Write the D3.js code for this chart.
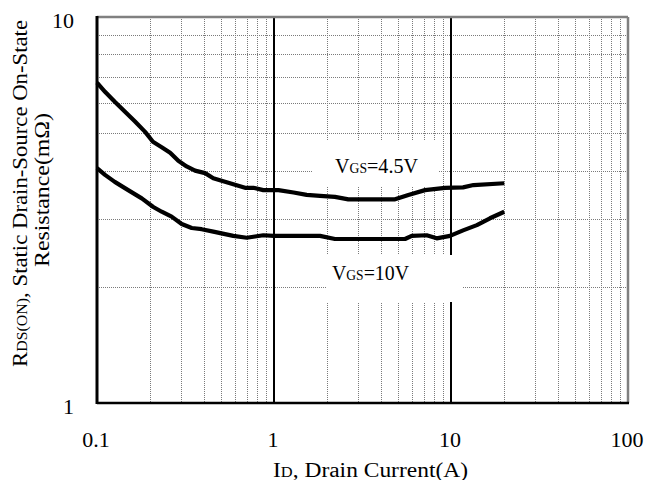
<!DOCTYPE html>
<html>
<head>
<meta charset="utf-8">
<script src="https://cdn.jsdelivr.net/npm/d3@7"></script>
<style>
  html, body { margin: 0; padding: 0; background: #fff; }
  svg { display: block; }
  text { font-family: "Liberation Serif", "Times New Roman", serif; fill: #000; }
</style>
</head>
<body>
<svg id="chart" width="646" height="480"></svg>
<script>
// Drain current (A) and on-resistance (mΩ) for each gate drive
const currentVgs45 = [0.1, 0.111, 0.126, 0.144, 0.164, 0.187, 0.207, 0.232, 0.259, 0.288, 0.321, 0.358, 0.408, 0.454, 0.564, 0.686, 0.764, 0.87, 1.06, 1.29, 1.53, 1.82, 2.21, 2.63, 4.83, 5.74, 7.13, 9.25, 11.7, 13.4, 20];
const rdsVgs45     = [6.76, 6.40, 6.03, 5.68, 5.36, 5.04, 4.75, 4.60, 4.45, 4.24, 4.10, 4.00, 3.94, 3.82, 3.71, 3.61, 3.61, 3.56, 3.56, 3.51, 3.46, 3.44, 3.42, 3.37, 3.37, 3.46, 3.56, 3.61, 3.62, 3.67, 3.71];

const currentVgs10 = [0.1, 0.111, 0.126, 0.150, 0.179, 0.208, 0.232, 0.264, 0.301, 0.343, 0.390, 0.454, 0.589, 0.701, 0.781, 0.87, 0.996, 1.82, 2.21, 5.50, 6.0, 7.29, 8.30, 9.87, 11.7, 14.0, 16.6, 20];
const rdsVgs10     = [4.06, 3.90, 3.74, 3.56, 3.39, 3.22, 3.13, 3.04, 2.91, 2.84, 2.82, 2.78, 2.71, 2.68, 2.70, 2.72, 2.71, 2.71, 2.66, 2.66, 2.71, 2.72, 2.67, 2.71, 2.80, 2.89, 3.01, 3.13];

const xTickLabels = [0.1, 1, 10, 100];
const yTickLabels = [1, 10];

const svg = d3.select("#chart");

const plotLeft = 97, plotRight = 628, plotTop = 17, plotBottom = 403;
const x = d3.scaleLog().domain([0.1, 100]).range([plotLeft, plotRight]);
const y = d3.scaleLog().domain([1, 10]).range([plotBottom, plotTop]);

// minor grid positions: 2..9 in every decade
const minorX = [];
[0.1, 1, 10].forEach(d => { for (let k = 2; k <= 9; k++) minorX.push(+(d * k).toPrecision(3)); });
const minorY = d3.range(2, 10);

const grid = svg.append("g")
  .attr("stroke", "#7a7a7a")
  .attr("stroke-width", 1)
  .attr("stroke-dasharray", "1,1")
  .attr("shape-rendering", "crispEdges");

grid.selectAll("line.v").data(minorX).join("line")
  .attr("class", "v")
  .attr("x1", d => Math.round(x(d)) + 0.5).attr("x2", d => Math.round(x(d)) + 0.5)
  .attr("y1", plotTop).attr("y2", plotBottom);

grid.selectAll("line.h").data(minorY).join("line")
  .attr("class", "h")
  .attr("x1", plotLeft).attr("x2", plotRight)
  .attr("y1", d => Math.round(y(d)) + 0.5).attr("y2", d => Math.round(y(d)) + 0.5);

// solid decade lines inside the plot
svg.append("g").selectAll("line").data([1, 10]).join("line")
  .attr("x1", d => x(d)).attr("x2", d => x(d))
  .attr("y1", plotTop).attr("y2", plotBottom)
  .attr("stroke", "#000").attr("stroke-width", 2);

// frame: grey top/right, black left/bottom
svg.append("line").attr("x1", plotLeft).attr("x2", plotRight).attr("y1", plotTop).attr("y2", plotTop)
  .attr("stroke", "#808080").attr("stroke-width", 2.5);
svg.append("line").attr("x1", plotRight).attr("x2", plotRight).attr("y1", plotTop).attr("y2", plotBottom)
  .attr("stroke", "#808080").attr("stroke-width", 2.5);
svg.append("line").attr("x1", plotLeft).attr("x2", plotRight + 1).attr("y1", plotBottom).attr("y2", plotBottom)
  .attr("stroke", "#000").attr("stroke-width", 2.5);
svg.append("line").attr("x1", plotLeft).attr("x2", plotLeft).attr("y1", plotTop - 1).attr("y2", plotBottom + 1)
  .attr("stroke", "#000").attr("stroke-width", 3);

// white panels behind the curve labels
svg.append("rect").attr("x", 313).attr("y", 140).attr("width", 125).attr("height", 47).attr("fill", "#fff");
svg.append("rect").attr("x", 327).attr("y", 255).attr("width", 135).attr("height", 47).attr("fill", "#fff");

// curves
const line = d3.line().x(d => x(d[0])).y(d => y(d[1]));
const series = [
  d3.zip(currentVgs45, rdsVgs45),
  d3.zip(currentVgs10, rdsVgs10)
];
svg.append("g").selectAll("path").data(series).join("path")
  .attr("d", line)
  .attr("fill", "none")
  .attr("stroke", "#000")
  .attr("stroke-width", 4.2)
  .attr("stroke-linejoin", "round");

// tick labels
svg.append("g").selectAll("text").data(xTickLabels).join("text")
  .attr("x", d => x(d) - 1)
  .attr("y", 447)
  .attr("text-anchor", "middle")
  .attr("font-size", 22)
  .text(d => d3.format("~g")(d));

svg.append("g").selectAll("text").data(yTickLabels).join("text")
  .attr("x", 74)
  .attr("y", d => y(d) + 10.5)
  .attr("text-anchor", "end")
  .attr("font-size", 22)
  .text(d => d);

// curve labels
function vgsLabel(xPos, yPos, value, len) {
  const t = svg.append("text").attr("x", xPos).attr("y", yPos).attr("font-size", 22)
    .attr("textLength", len).attr("lengthAdjust", "spacingAndGlyphs");
  t.append("tspan").text("V");
  t.append("tspan").attr("font-size", 15).text("GS");
  t.append("tspan").text("=" + value + "V");
}
vgsLabel(335, 173, "4.5", 83);
vgsLabel(332, 280, "10", 77);

// x axis title
const xt = svg.append("text").attr("x", 273).attr("y", 477).attr("font-size", 20)
  .attr("textLength", 195).attr("lengthAdjust", "spacingAndGlyphs");
xt.append("tspan").text("I");
xt.append("tspan").attr("font-size", 14).text("D");
xt.append("tspan").text(", Drain Current(A)");

// y axis title (two lines)
const yt1 = svg.append("text")
  .attr("transform", "translate(27,367) rotate(-90)")
  .attr("font-size", 20)
  .attr("textLength", 347).attr("lengthAdjust", "spacingAndGlyphs");
yt1.append("tspan").text("R");
yt1.append("tspan").attr("font-size", 14).text("DS(ON)");
yt1.append("tspan").text(", Static Drain-Source On-State");

svg.append("text")
  .attr("transform", "translate(49,267) rotate(-90)")
  .attr("font-size", 20)
  .attr("textLength", 154).attr("lengthAdjust", "spacingAndGlyphs")
  .text("Resistance(mΩ)");
</script>
</body>
</html>
